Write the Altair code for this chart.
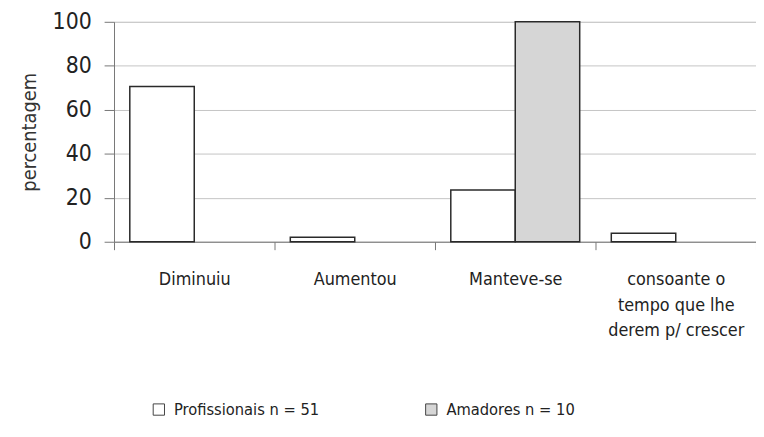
import altair as alt
import pandas as pd

categorias = ["Diminuiu", "Aumentou", "Manteve-se", "consoante o|tempo que lhe|derem p/ crescer"]
series = ["Profissionais n = 51", "Amadores n = 10"]
profissionais = [70.6, 2.0, 23.5, 3.9]
amadores = [0, 0, 100, 0]
y_ticks = [0, 20, 40, 60, 80, 100]

rows = []
for c, p, a in zip(categorias, profissionais, amadores):
    rows.append({"cat": c, "serie": series[0], "valor": p})
    rows.append({"cat": c, "serie": series[1], "valor": a})
df = pd.DataFrame(rows)

FONT = "DejaVu Sans Condensed, sans-serif"

bars = alt.Chart(df).transform_filter("datum.valor > 0").mark_bar(
    stroke="#2a2a2a", strokeWidth=1.5
).encode(
    x=alt.X(
        "cat:N", sort=categorias,
        scale=alt.Scale(paddingInner=0, paddingOuter=0),
        axis=alt.Axis(
            title=None, labelAngle=0, labelExpr="split(datum.label, '|')",
            tickBand="extent", tickSize=8, tickColor="#777777", domainColor="#777777",
            labelPadding=21, labelLineHeight=26, labelFontSize=18, labelFont=FONT,
            labelColor="#222222", grid=False,
        ),
    ),
    xOffset=alt.XOffset("serie:N", sort=series,
                        scale=alt.Scale(domain=series, paddingOuter=0.245, paddingInner=0)),
    y=alt.Y(
        "valor:Q", scale=alt.Scale(domain=[0, 100]),
        axis=alt.Axis(
            values=y_ticks, title="percentagem", tickSize=10, tickColor="#777777",
            domainColor="#777777", labelPadding=13, labelFontSize=23, labelFont=FONT,
            labelColor="#222222", titleFont=FONT, titleFontSize=20, titleFontWeight="normal",
            titleColor="#333333", titlePadding=13, grid=True, gridColor="#c4c4c4",
        ),
    ),
    fill=alt.Fill(
        "serie:N", sort=series,
        scale=alt.Scale(domain=series, range=["#ffffff", "#d6d6d6"]),
        legend=alt.Legend(
            title=None, orient="none", legendX=37, legendY=383, direction="horizontal",
            symbolType="square", symbolSize=130, symbolStrokeColor="#444444",
            symbolStrokeWidth=1, labelFont=FONT, labelFontSize=16.5, labelColor="#222222",
            columnPadding=104, labelOffset=7,
        ),
    ),
)

chart = bars.properties(
    width=648, height=222,
    autosize=alt.AutoSizeParams(type="none"),
    padding={"left": 107, "top": 12, "right": 0, "bottom": 180},
).configure_view(stroke="#dddddd").configure(background="white")

chart.save("out.html", embed_options={"renderer": "svg", "actions": False})
